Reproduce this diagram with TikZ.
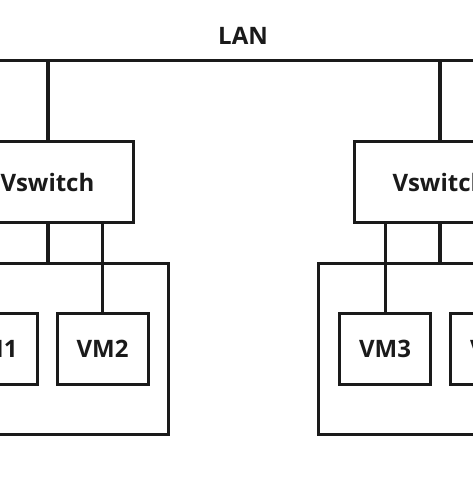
\documentclass[tikz,border=0pt]{standalone}
\usepackage{fontspec}
\setmainfont{Open Sans}
\definecolor{linegray}{HTML}{1A1A1A}
\tikzset{
	box/.style = {draw = linegray, line width = 2.25pt, fill = white, inner sep = 0pt, text = linegray, font = \bfseries\fontsize{18}{20}\selectfont},
	switchbox/.style = {box, minimum width = 128.25pt, minimum height = 60pt},
	hostbox/.style = {box, minimum width = 181.5pt, minimum height = 128.25pt},
	vmbox/.style = {box, minimum width = 68.25pt, minimum height = 53.25pt},
	wire/.style = {draw = linegray, line width = 2.25pt},
	uplink/.style = {wire, line width = 3pt}
}
\begin{document}
\begin{tikzpicture}[x = 0.75pt, y = -0.75pt]
	\useasboundingbox (0, 0) rectangle (473, 477);
	\clip (0, 0) rectangle (473, 477);
	\node[text = linegray, font = \bfseries\fontsize{18}{20}\selectfont] (lan) at (243, 36) {LAN};
	\coordinate (busL) at (-120, 61);
	\coordinate (busR) at (600, 61);
	\draw[wire] (busL) -- (busR);
	% two hosts, each with a vswitch and two VMs
	\foreach \h/\x in {1/47.5, 2/439.5}{
		\node[hostbox] (host\h) at (\x, 348.5) {};
		\node[switchbox] (vs\h) at (\x, 182) {Vswitch};
		\draw[uplink] (vs\h.north) -- (vs\h.north |- busL);
		\draw[uplink] (vs\h.south) -- (host\h.north);}
	\foreach \v/\x in {1/-8.5, 2/102.5, 3/385, 4/496}{
		\node[vmbox] (vm\v) at (\x, 348.5) {VM\v};}
	\draw[wire] (vm2.north) -- (vm2.north |- vs1.south);
	\draw[wire] (vm3.north) -- (vm3.north |- vs2.south);
\end{tikzpicture}
\end{document}
